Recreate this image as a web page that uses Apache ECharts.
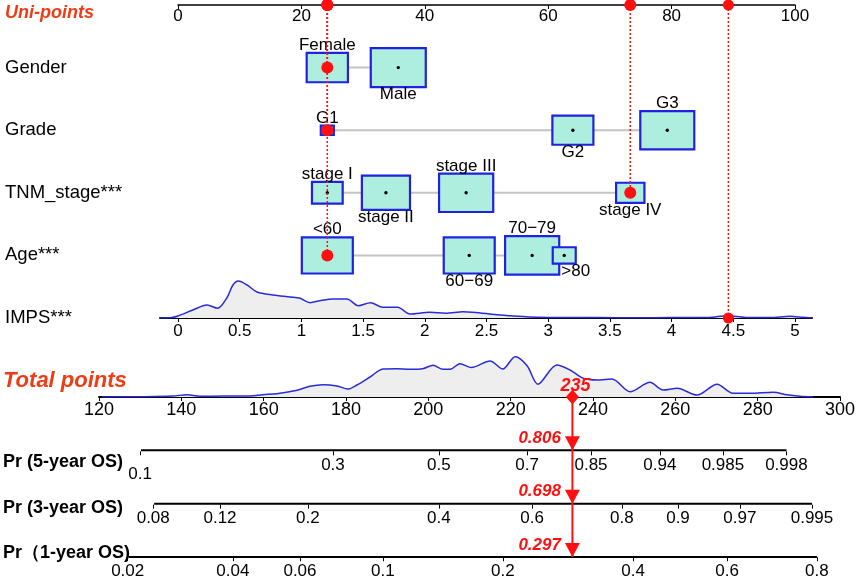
<!DOCTYPE html>
<html>
<head>
<meta charset="utf-8">
<script src="https://cdn.jsdelivr.net/npm/echarts@6/dist/echarts.min.js"></script>
<style>
    html, body { margin: 0; padding: 0; background: #fff; }
    #chart { width: 861px; height: 579px; }
</style>
</head>
<body>
<div id="chart"></div>
<script>
// 行名
const rowNames = ['Uni-points', 'Gender', 'Grade', 'TNM_stage', 'Age', 'IMPS'];
const rowStars = ['', '', '', '***', '***', '***'];

// 分类变量：水平、分数、样本占比
const genderLevels = ['Female', 'Male'];
const genderPoints = [24.2, 35.7];
const genderShare = [0.36, 0.64];

const gradeLevels = ['G1', 'G2', 'G3'];
const gradePoints = [24.2, 64.0, 79.3];
const gradeShare = [0.036, 0.356, 0.617];

const stageLevels = ['stage I', 'stage II', 'stage III', 'stage IV'];
const stagePoints = [24.2, 33.7, 46.7, 73.3];
const stageShare = [0.2, 0.49, 0.62, 0.17];

const ageLevels = ['<60', '60\u221269', '70\u221279', '>80'];
const agePoints = [24.2, 47.2, 57.4, 62.6];
const ageShare = [0.55, 0.55, 0.62, 0.112];

// 当前病人 (Gender, Grade, TNM_stage, Age 的水平序号)
const selectedLevel = [0, 0, 3, 0];
const impsValue = 4.46;
const impsAxisRange = [-0.146, 5.138];
const impsTicks = [0, 0.5, 1, 1.5, 2, 2.5, 3, 3.5, 4, 4.5, 5];

// IMPS 分布密度
const impsX = [-0.146, -0.05, 0, 0.12, 0.235, 0.32, 0.4, 0.445, 0.49, 0.56, 0.64, 0.77, 0.91, 0.99, 1.07, 1.15, 1.26, 1.37, 1.46, 1.56, 1.66, 1.78, 1.88, 2.04, 2.17, 2.31, 2.45, 2.59, 2.75, 2.91, 3.1, 3.4, 3.7, 4.0, 4.3, 4.45, 4.6, 4.8, 4.96, 5.06, 5.138];
const impsDensity = [0, 0.6, 2, 8, 13, 9.7, 21, 33, 37, 33, 26, 23, 21, 19.7, 15.3, 17.3, 19, 19, 12.3, 15.3, 10.7, 10.7, 4, 5.7, 4.8, 6.3, 5, 3.3, 1.7, 0.7, 0.5, 0.4, 0.3, 0.4, 0.5, 2.3, 0.6, 0.5, 1.7, 0.8, 0];

// 总分分布密度
const totalX = [121, 130, 138.2, 141.6, 144.7, 150.3, 156.9, 160, 163.4, 168.3, 171.4, 174.6, 178, 180.6, 182.8, 186, 189.1, 192.5, 195.7, 198.8, 201.3, 203.7, 205.4, 207.8, 210.6, 215.1, 218.2, 221.2, 224.1, 226.7, 231.3, 234.5, 237.7, 241.1, 244.7, 249.1, 253.9, 257.1, 260.5, 265.3, 270.2, 274, 278.2, 283.8, 287.1, 290.3, 293.5];
const totalDensity = [0, 0.3, 1, 2.3, 0.7, 1, 1, 2.3, 3.3, 6.7, 10.7, 12.3, 11, 8, 12, 20, 28, 28.3, 27.7, 28.3, 31.7, 27.7, 27.7, 33.3, 29.5, 36, 28, 40.3, 31.3, 12.7, 32, 27, 18.7, 17, 18, 5.3, 14.7, 7, 8.7, 2, 12.7, 3.7, 3.7, 4.7, 2.3, 0.8, 0];

const totalScore = 235;

// 生存概率刻度 (标签与对应总分)
const probNames = ['Pr (5-year OS)', 'Pr (3-year OS)', 'Pr\uff081-year OS)'];
const prob5Labels = ['0.1', '0.3', '0.5', '0.7', '0.85', '0.94', '0.985', '0.998'];
const prob5At = [130.2, 177.0, 202.7, 224.1, 239.6, 256.3, 271.6, 287.0];
const prob3Labels = ['0.08', '0.12', '0.2', '0.4', '0.6', '0.8', '0.9', '0.97', '0.995'];
const prob3At = [133.4, 149.6, 170.9, 202.7, 225.3, 247.1, 260.7, 275.7, 293.2];
const prob1Labels = ['0.02', '0.04', '0.06', '0.1', '0.2', '0.4', '0.6', '0.8'];
const prob1At = [127.2, 152.7, 169.0, 189.1, 218.2, 249.8, 272.6, 294.4];
const predicted = ['0.806', '0.698', '0.297'];

const FONT = 'Liberation Sans, Arial, sans-serif';
const RED = '#ff1010';
const TITLE = '#ee3c14';

// 组合分类变量的方框
const variables = [
    { levels: genderLevels, points: genderPoints, share: genderShare },
    { levels: gradeLevels, points: gradePoints, share: gradeShare },
    { levels: stageLevels, points: stagePoints, share: stageShare },
    { levels: ageLevels, points: agePoints, share: ageShare }
];
const boxes = [];
variables.forEach((v, vi) => {
    v.levels.forEach((lv, li) => {
        boxes.push({ row: vi + 1, idx: li, label: lv, points: v.points[li], share: v.share[li] });
    });
});

function renderBox(params, api) {
    const b = boxes[params.dataIndex];
    const c = api.coord([api.value(0), api.value(1)]);
    const w = 68.75 * Math.sqrt(b.share);
    const h = w * 0.71;
    const above = b.idx % 2 === 0;
    // 最小的末尾方框，标签往右挪开避免重叠
    const nudge = (!above && b.share < 0.15) ? w / 2 : 0;
    return {
        type: 'group',
        children: [
            { type: 'rect', shape: { x: c[0] - w / 2, y: c[1] - h / 2, width: w, height: h },
              style: { fill: '#aeeedf', stroke: '#1f22e0', lineWidth: 2.2 } },
            { type: 'circle', shape: { cx: c[0], cy: c[1], r: 1.7 }, style: { fill: '#000' } },
            { type: 'text', x: c[0] + nudge, y: above ? c[1] - h / 2 + 1 : c[1] + h / 2 - 1,
              style: { text: b.label, fill: '#000', font: '17px ' + FONT, align: 'center',
                       verticalAlign: above ? 'bottom' : 'top' } }
        ]
    };
}

function nearest(arr, v) {
    let k = 0;
    arr.forEach((a, i) => { if (Math.abs(a - v) < Math.abs(arr[k] - v)) k = i; });
    return k;
}

const probRowsTop = [0, 1, 2].map(i => 397 + (i + 1) * 160 / 3);

function probAxis(gridIndex, at, labels, lowFirst) {
    return {
        type: 'value', gridIndex: gridIndex, min: 120, max: 300, position: 'top',
        axisLine: { show: false }, splitLine: { show: false },
        axisTick: { show: true, inside: true, length: 4, customValues: at, lineStyle: { color: '#000' } },
        axisLabel: {
            show: true, inside: true, margin: 6, customValues: at,
            fontSize: 17, color: '#000', fontFamily: FONT,
            formatter: function (v) {
                const k = nearest(at, v);
                return (lowFirst && k === 0) ? '{low|' + labels[k] + '}' : labels[k];
            },
            rich: { low: { fontSize: 17, color: '#000', fontFamily: FONT, padding: [9, 0, 0, 0] } }
        }
    };
}

const dom = document.getElementById('chart');
const myChart = echarts.init(dom);

const selected = selectedLevel.map((li, vi) => ({ x: variables[vi].points[li], row: vi + 1 }));

const series = [];
// 密度曲线
series.push({
    type: 'line', xAxisIndex: 2, yAxisIndex: 1, smooth: 0.3, showSymbol: false, z: 1,
    data: impsX.map((x, i) => [x, impsDensity[i]]),
    lineStyle: { color: '#2b2bd8', width: 1.5 }, areaStyle: { color: '#eeeeee', opacity: 1 }
});
series.push({
    type: 'line', xAxisIndex: 3, yAxisIndex: 2, smooth: 0.3, showSymbol: false, z: 1,
    data: totalX.map((x, i) => [x, totalDensity[i]]),
    lineStyle: { color: '#2b2bd8', width: 1.5 }, areaStyle: { color: '#eeeeee', opacity: 1 }
});
// 灰色连接线
variables.forEach((v, vi) => {
    series.push({
        type: 'line', xAxisIndex: 0, yAxisIndex: 0, showSymbol: false, z: 2, silent: true,
        data: [[Math.min(...v.points), vi + 1], [Math.max(...v.points), vi + 1]],
        lineStyle: { color: '#c4c4c4', width: 2 }
    });
});
// 方框
series.push({
    type: 'custom', xAxisIndex: 0, yAxisIndex: 0, z: 3,
    renderItem: renderBox,
    encode: { x: 0, y: 1 },
    data: boxes.map(b => [b.points, b.row])
});
// 红色虚线
selected.forEach(s => {
    series.push({
        type: 'line', xAxisIndex: 0, yAxisIndex: 0, showSymbol: false, z: 4,
        data: [[s.x, 0], [s.x, s.row]],
        lineStyle: { color: RED, width: 1.5, type: [2, 2] }
    });
});
series.push({
    type: 'line', xAxisIndex: 1, yAxisIndex: 0, showSymbol: false, z: 4,
    data: [[impsValue, 0], [impsValue, 5]],
    lineStyle: { color: RED, width: 1.5, type: [2, 2] }
});
// 红点
series.push({
    type: 'scatter', xAxisIndex: 0, yAxisIndex: 0, z: 5, symbolSize: 12,
    itemStyle: { color: RED, opacity: 1 },
    data: selected.map(s => [s.x, s.row]).concat(selected.map(s => [s.x, 0]))
});
series.push({
    type: 'scatter', xAxisIndex: 1, yAxisIndex: 0, z: 5, symbolSize: 11,
    itemStyle: { color: RED, opacity: 1 },
    data: [[impsValue, 5], [impsValue, 0]]
});
// 概率轴线
[prob5At, prob3At, prob1At].forEach((at, i) => {
    series.push({
        type: 'line', xAxisIndex: 4, yAxisIndex: 3, showSymbol: false, z: 2,
        data: [[at[0], i + 1], [at[at.length - 1], i + 1]],
        lineStyle: { color: '#000', width: 2 }
    });
});
// 红色箭头
series.push({
    type: 'line', xAxisIndex: 4, yAxisIndex: 3, showSymbol: false, z: 4,
    data: [[totalScore, 0], [totalScore, 3]],
    lineStyle: { color: RED, width: 2 }
});
series.push({
    type: 'scatter', xAxisIndex: 4, yAxisIndex: 3, z: 5,
    symbol: 'path://M0,0 L10,0 L5,10 Z', symbolSize: [15, 14], symbolOffset: [0, '-50%'],
    itemStyle: { color: RED, opacity: 1 },
    label: {
        show: true, position: 'left', distance: 4, offset: [0, -5],
        formatter: p => predicted[p.dataIndex],
        color: RED, fontSize: 17, fontStyle: 'italic', fontWeight: 'bold', fontFamily: FONT
    },
    data: [[totalScore, 1], [totalScore, 2], [totalScore, 3]]
});
series.push({
    type: 'scatter', xAxisIndex: 4, yAxisIndex: 3, z: 5,
    symbol: 'diamond', symbolSize: [13, 15],
    itemStyle: { color: RED, opacity: 1 },
    label: {
        show: true, position: 'top', distance: -6, offset: [3, 0],
        formatter: String(totalScore),
        color: RED, fontSize: 18, fontStyle: 'italic', fontWeight: 'bold', fontFamily: FONT
    },
    data: [[totalScore, 0]]
});

const option = {
    backgroundColor: '#fff',
    animation: false,
    textStyle: { fontFamily: FONT },
    grid: [
        { left: 178, width: 617, top: 5, height: 313 },
        { left: 160, width: 652, top: 278, height: 40 },
        { left: 98, width: 742, top: 352, height: 45 },
        { left: 98, width: 742, top: 397, height: 160 },
        { left: 98, width: 742, top: probRowsTop[0], height: 1 },
        { left: 98, width: 742, top: probRowsTop[1], height: 1 },
        { left: 98, width: 742, top: probRowsTop[2], height: 1 }
    ],
    xAxis: [
        { type: 'value', gridIndex: 0, min: 0, max: 100, interval: 20, position: 'top',
          axisLine: { lineStyle: { color: '#000', width: 1.5 } }, splitLine: { show: false },
          axisTick: { inside: true, length: 4, lineStyle: { color: '#000' } },
          axisLabel: { inside: true, margin: 3, fontSize: 17, color: '#000', fontFamily: FONT } },
        { type: 'value', gridIndex: 0, min: 0, max: 5, show: false },
        { type: 'value', gridIndex: 1, min: impsAxisRange[0], max: impsAxisRange[1], position: 'bottom',
          axisLine: { lineStyle: { color: '#000', width: 2 } }, splitLine: { show: false },
          axisTick: { show: true, length: 4, customValues: impsTicks, lineStyle: { color: '#000' } },
          axisLabel: { margin: 5, customValues: impsTicks, fontSize: 17, color: '#000', fontFamily: FONT } },
        { type: 'value', gridIndex: 2, min: 120, max: 300, show: false },
        { type: 'value', gridIndex: 3, min: 120, max: 300, interval: 20, position: 'top',
          axisLine: { lineStyle: { color: '#000', width: 2 } }, splitLine: { show: false },
          axisTick: { inside: true, length: 4, lineStyle: { color: '#000' } },
          axisLabel: { inside: true, margin: 4, fontSize: 18, color: '#000', fontFamily: FONT } },
        probAxis(4, prob5At, prob5Labels, true),
        probAxis(5, prob3At, prob3Labels, false),
        probAxis(6, prob1At, prob1Labels, false)
    ],
    yAxis: [
        { type: 'value', gridIndex: 0, min: 0, max: 5, interval: 1, inverse: true,
          axisLine: { show: false }, axisTick: { show: false }, splitLine: { show: false },
          axisLabel: {
              align: 'left', margin: 173,
              formatter: function (v) {
                  const i = Math.round(v);
                  if (i === 0) return '{title|' + rowNames[0] + '}';
                  return '{name|' + rowNames[i] + rowStars[i] + '}';
              },
              rich: {
                  title: { color: TITLE, fontSize: 18, fontStyle: 'italic', fontWeight: 'bold', fontFamily: FONT, padding: [16, 0, 0, 0] },
                  name: { color: '#000', fontSize: 18.5, fontFamily: FONT }
              }
          } },
        { type: 'value', gridIndex: 1, min: 0, max: 40, show: false },
        { type: 'value', gridIndex: 2, min: 0, max: 45, show: false },
        { type: 'value', gridIndex: 3, min: 0, max: 3, interval: 1, inverse: true,
          axisLine: { show: false }, axisTick: { show: false }, splitLine: { show: false },
          axisLabel: {
              align: 'left', margin: 96,
              formatter: function (v) {
                  const i = Math.round(v);
                  if (i === 0) return '{total|Total points}';
                  return '{p' + i + '|' + probNames[i - 1] + '}';
              },
              rich: {
                  total: { color: TITLE, fontSize: 22, fontStyle: 'italic', fontWeight: 'bold', fontFamily: FONT, padding: [0, 0, 32, 0] },
                  p1: { color: '#000', fontSize: 18, fontWeight: 'bold', fontFamily: FONT, padding: [24, 0, 0, 0] },
                  p2: { color: '#000', fontSize: 18, fontWeight: 'bold', fontFamily: FONT, padding: [8, 0, 0, 0] },
                  p3: { color: '#000', fontSize: 18, fontWeight: 'bold', fontFamily: FONT, padding: [0, 0, 8, 0] }
              }
          } },
        { type: 'value', gridIndex: 4, min: 0, max: 1, show: false },
        { type: 'value', gridIndex: 5, min: 0, max: 1, show: false },
        { type: 'value', gridIndex: 6, min: 0, max: 1, show: false }
    ],
    series: series
};

myChart.setOption(option);
window.addEventListener('resize', function () {
    myChart.resize();
});
</script>
</body>
</html>
